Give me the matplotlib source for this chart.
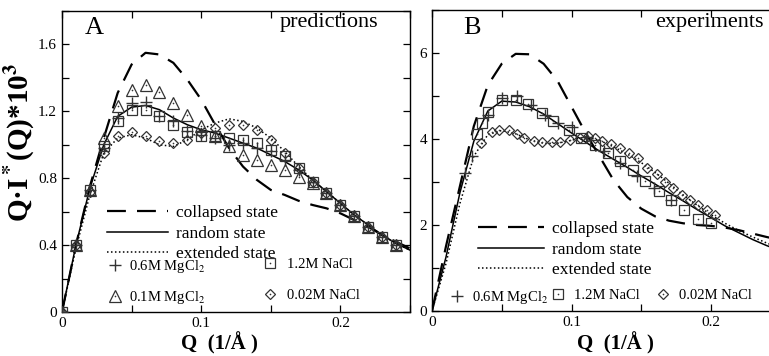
import matplotlib
matplotlib.use("Agg")
import matplotlib.pyplot as plt
from matplotlib.ticker import MultipleLocator

plt.rcParams['font.family'] = ['Liberation Serif', 'DejaVu Serif']
plt.rcParams['mathtext.fontset'] = 'stix'

W, H = 769, 356

# ---------------- Panel A (predictions) ----------------
qA_line = [0.00, 0.01, 0.02, 0.03, 0.04, 0.05, 0.06, 0.07, 0.08, 0.09, 0.10, 0.11, 0.12,
           0.13, 0.14, 0.15, 0.16, 0.17, 0.18, 0.19, 0.20, 0.21, 0.22, 0.23, 0.24, 0.25]
A_collapsed = [0, 0.40, 0.75, 1.04, 1.31, 1.48, 1.55, 1.54, 1.49, 1.39, 1.27, 1.12, 0.98,
               0.87, 0.79, 0.73, 0.70, 0.665, 0.64, 0.62, 0.59, 0.55, 0.51, 0.46, 0.42, 0.38]
A_random = [0, 0.40, 0.74, 1.00, 1.17, 1.225, 1.235, 1.21, 1.16, 1.12, 1.09, 1.07, 1.04,
            1.01, 0.98, 0.94, 0.90, 0.85, 0.79, 0.72, 0.65, 0.58, 0.52, 0.46, 0.41, 0.37]
A_extended = [0, 0.38, 0.70, 0.95, 1.04, 1.06, 1.04, 1.00, 0.99, 1.03, 1.09, 1.13, 1.155,
              1.14, 1.10, 1.04, 0.96, 0.87, 0.79, 0.72, 0.65, 0.58, 0.52, 0.46, 0.41, 0.37]

qA_pts = [0.00, 0.01, 0.02, 0.03, 0.04, 0.05, 0.06, 0.07, 0.08, 0.09, 0.10, 0.11, 0.12,
          0.13, 0.14, 0.15, 0.16, 0.17, 0.18, 0.19, 0.20, 0.21, 0.22, 0.23, 0.24]
A_mg06 = [0, 0.40, 0.73, 0.98, 1.16, 1.25, 1.255, 1.17, 1.14, 1.08, 1.06, 1.04, 1.00,
          1.01, 0.98, 0.96, 0.91, 0.85, 0.78, 0.71, 0.64, 0.575, 0.51, 0.45, 0.40]
A_mg01 = [0, 0.40, 0.73, 1.04, 1.23, 1.325, 1.355, 1.315, 1.247, 1.18, 1.11, 1.05, 0.99,
          0.94, 0.91, 0.88, 0.85, 0.81, 0.77, 0.71, 0.64, 0.575, 0.51, 0.45, 0.40]
A_na12 = [0, 0.40, 0.73, 0.99, 1.14, 1.205, 1.21, 1.175, 1.12, 1.075, 1.05, 1.05, 1.04,
          1.03, 1.01, 0.97, 0.93, 0.86, 0.78, 0.71, 0.64, 0.575, 0.51, 0.45, 0.40]
A_na002 = [0, 0.40, 0.72, 0.95, 1.05, 1.075, 1.05, 1.02, 1.01, 1.03, 1.07, 1.10, 1.12,
           1.12, 1.09, 1.03, 0.95, 0.86, 0.78, 0.71, 0.64, 0.575, 0.51, 0.45, 0.40]

# ---------------- Panel B (experiments) ----------------
qB_line = qA_line
B_collapsed = [0, 1.5, 2.9, 4.3, 5.25, 5.75, 5.98, 5.97, 5.75, 5.35, 4.75, 4.15, 3.6,
               3.05, 2.65, 2.38, 2.2, 2.1, 2.04, 2.0, 1.98, 1.94, 1.88, 1.8, 1.72, 1.65]
B_random = [0, 1.25, 2.75, 3.95, 4.65, 4.88, 4.86, 4.75, 4.58, 4.36, 4.14, 3.93, 3.72,
            3.53, 3.34, 3.14, 2.95, 2.75, 2.56, 2.36, 2.17, 1.98, 1.82, 1.66, 1.52, 1.40]
B_extended = [0, 1.1, 2.5, 3.6, 4.1, 4.2, 4.12, 3.98, 3.9, 3.9, 3.97, 4.05, 3.97,
              3.82, 3.65, 3.45, 3.22, 2.97, 2.7, 2.46, 2.24, 2.04, 1.87, 1.72, 1.58, 1.46]

qB_mg06 = [0.024, 0.029, 0.040, 0.050, 0.061, 0.071, 0.081, 0.090, 0.100, 0.111, 0.123,
           0.135, 0.147, 0.159, 0.171]
B_mg06 = [3.2, 3.6, 4.55, 4.95, 5.0, 4.78, 4.55, 4.38, 4.27, 4.05, 3.72, 3.45, 3.15,
          2.85, 2.57]
qB_na12 = [0.032, 0.036, 0.040, 0.050, 0.060, 0.069, 0.079, 0.087, 0.098, 0.107, 0.117,
           0.126, 0.135, 0.144, 0.153, 0.163, 0.171, 0.181, 0.191, 0.200]
B_na12 = [4.11, 4.37, 4.62, 4.90, 4.90, 4.81, 4.60, 4.42, 4.21, 4.03, 3.86, 3.67, 3.48,
          3.28, 3.03, 2.80, 2.57, 2.36, 2.15, 2.04]
qB_na002 = [0.035, 0.043, 0.048, 0.055, 0.061, 0.066, 0.073, 0.079, 0.086, 0.092, 0.099,
            0.106, 0.112, 0.117, 0.122, 0.128, 0.135, 0.141, 0.148, 0.154, 0.161, 0.167,
            0.173, 0.179, 0.185, 0.191, 0.197, 0.203]
B_na002 = [3.90, 4.17, 4.21, 4.21, 4.11, 4.03, 3.95, 3.92, 3.92, 3.92, 3.98, 4.02, 4.06,
           4.02, 3.95, 3.88, 3.78, 3.67, 3.55, 3.32, 3.18, 3.01, 2.85, 2.70, 2.58, 2.47,
           2.35, 2.23]

lbl_lines = ['collapsed state', 'random state', 'extended state']
lbl_mg06 = r'0.6M MgCl$_2$'
lbl_mg01 = r'0.1M MgCl$_2$'
lbl_na12 = '1.2M NaCl'
lbl_na002 = '0.02M NaCl'

fig = plt.figure(figsize=(W / 100, H / 100), dpi=100)
axA = fig.add_axes([62 / W, 1 - 312 / H, 348 / W, 301 / H])
axB = fig.add_axes([432 / W, 1 - 311 / H, 348.75 / W, 301 / H])

mec = '#333333'
line_kw = dict(color='black', zorder=3)
dash_style = (0, (8.5, 5))


def draw_lines(ax, q, c, r, e):
    lc, = ax.plot(q, c, linestyle=dash_style, lw=1.6, **line_kw)
    lr, = ax.plot(q, r, linestyle='-', lw=1.1, **line_kw)
    le, = ax.plot(q, e, linestyle=(0, (1, 1.6)), lw=1.1, **line_kw)
    return lc, lr, le


mk = dict(linestyle='none', mfc='none', mec=mec, mew=0.9, zorder=4)
dot = dict(linestyle='none', marker='o', ms=1.2, mfc=mec, mec='none', zorder=5)


def open_marker(ax, q, v, m, ms):
    h1, = ax.plot(q, v, marker=m, ms=ms, **mk)
    h2, = ax.plot(q, v, **dot)
    return (h1, h2)


hcA = draw_lines(axA, qA_line, A_collapsed, A_random, A_extended)
hA_dia = open_marker(axA, qA_pts, A_na002, 'D', 5.5)
hA_sq = open_marker(axA, qA_pts, A_na12, 's', 7.5)
hA_tri = open_marker(axA, qA_pts, A_mg01, '^', 9)
hA_plus, = axA.plot(qA_pts, A_mg06, marker='+', ms=9, mew=1.0, linestyle='none',
                    color=mec, zorder=4)

hcB = draw_lines(axB, qB_line, B_collapsed, B_random, B_extended)
hB_dia = open_marker(axB, qB_na002, B_na002, 'D', 5.5)
hB_sq = open_marker(axB, qB_na12, B_na12, 's', 7.5)
hB_plus, = axB.plot(qB_mg06, B_mg06, marker='+', ms=9, mew=1.0, linestyle='none',
                    color=mec, zorder=4)

for ax in (axA, axB):
    ax.set_xlim(0, 0.25)
    ax.xaxis.set_major_locator(MultipleLocator(0.1))
    ax.xaxis.set_minor_locator(MultipleLocator(0.05))
    ax.tick_params(which='both', direction='in', top=True, right=True,
                   labelsize=11, length=5, width=0.9)
    for s in ax.spines.values():
        s.set_linewidth(1.0)

axA.set_ylim(0, 1.8)
axA.yaxis.set_major_locator(MultipleLocator(0.4))
axA.yaxis.set_minor_locator(MultipleLocator(0.2))
axB.set_ylim(0, 7)
axB.yaxis.set_major_locator(MultipleLocator(2))
axB.yaxis.set_minor_locator(MultipleLocator(1))

for ax in (axA, axB):
    ax.set_xticks([0, 0.1, 0.2])
    ax.set_xticklabels(['0', '0.1', '0.2'])
axA.set_yticks([0, 0.4, 0.8, 1.2, 1.6])
axA.set_yticklabels(['0', '0.4', '0.8', '1.2', '1.6'])
axB.set_yticks([0, 2, 4, 6])
axB.set_yticklabels(['0', '2', '4', '6'])

# axis labels
xl = 'Q  (1/Å )'
axA.set_xlabel(xl, fontsize=15, fontweight='bold', va='center')
axA.xaxis.set_label_coords((219 - 62) / 348, (312 - 343) / 301)
axB.set_xlabel(xl, fontsize=15, fontweight='bold', va='center')
axB.xaxis.set_label_coords((615 - 432) / 348.75, (311 - 343) / 301)
axA.set_ylabel('Q·I$^{\\bf *}$(Q)*10$^{\\bf 3}$', fontsize=21, fontweight='bold',
               va='center')
axA.yaxis.set_label_coords((20 - 62) / 348, (312 - 142) / 301)

# panel annotations
axA.text((85 - 62) / 348, (312 - 28) / 301, 'A', transform=axA.transAxes,
         fontsize=19, va='center', ha='left')
axA.text((378 - 62) / 348, (312 - 22) / 301, 'predictions', transform=axA.transAxes,
         fontsize=16, va='center', ha='right')
axB.text((463 - 432) / 348.75, (311 - 28) / 301, 'B', transform=axB.transAxes,
         fontsize=19, va='center', ha='left')
axB.text((764 - 432) / 348.75, (311 - 22) / 301, 'experiments', transform=axB.transAxes,
         fontsize=16, va='center', ha='right')


def place(ax, handles, labels, x_px, y_px, fs, hl, tp=0.4, sp=0.35):
    leg = ax.legend(handles, labels, loc='upper left',
                    bbox_to_anchor=(x_px / W, 1 - y_px / H), bbox_transform=fig.transFigure,
                    frameon=False, borderpad=0, borderaxespad=0, handlelength=hl,
                    handletextpad=tp, labelspacing=sp, fontsize=fs, numpoints=1)
    ax.add_artist(leg)
    ax.legend_ = None
    return leg


place(axA, list(hcA), lbl_lines, 107, 205, 12.5, 3.5, tp=0.45, sp=0.25)
place(axA, [hA_plus], [lbl_mg06], 107, 258, 10.5, 1.1)
place(axA, [hA_tri], [lbl_mg01], 107, 289, 10.5, 1.1)
place(axA, [hA_sq], [lbl_na12], 262, 258, 10.5, 1.1, tp=0.6)
place(axA, [hA_dia], [lbl_na002], 262, 289, 10.5, 1.1, tp=0.6)

place(axB, list(hcB), lbl_lines, 478, 221, 12.5, 3.8, tp=0.45, sp=0.25)
place(axB, [hB_plus], [lbl_mg06], 450, 289, 10.5, 1.0, tp=0.5)
place(axB, [hB_sq], [lbl_na12], 551, 289, 10.5, 1.0, tp=0.6)
place(axB, [hB_dia], [lbl_na002], 656, 289, 10.5, 1.0, tp=0.6)

fig.savefig('out.png', dpi=100)
